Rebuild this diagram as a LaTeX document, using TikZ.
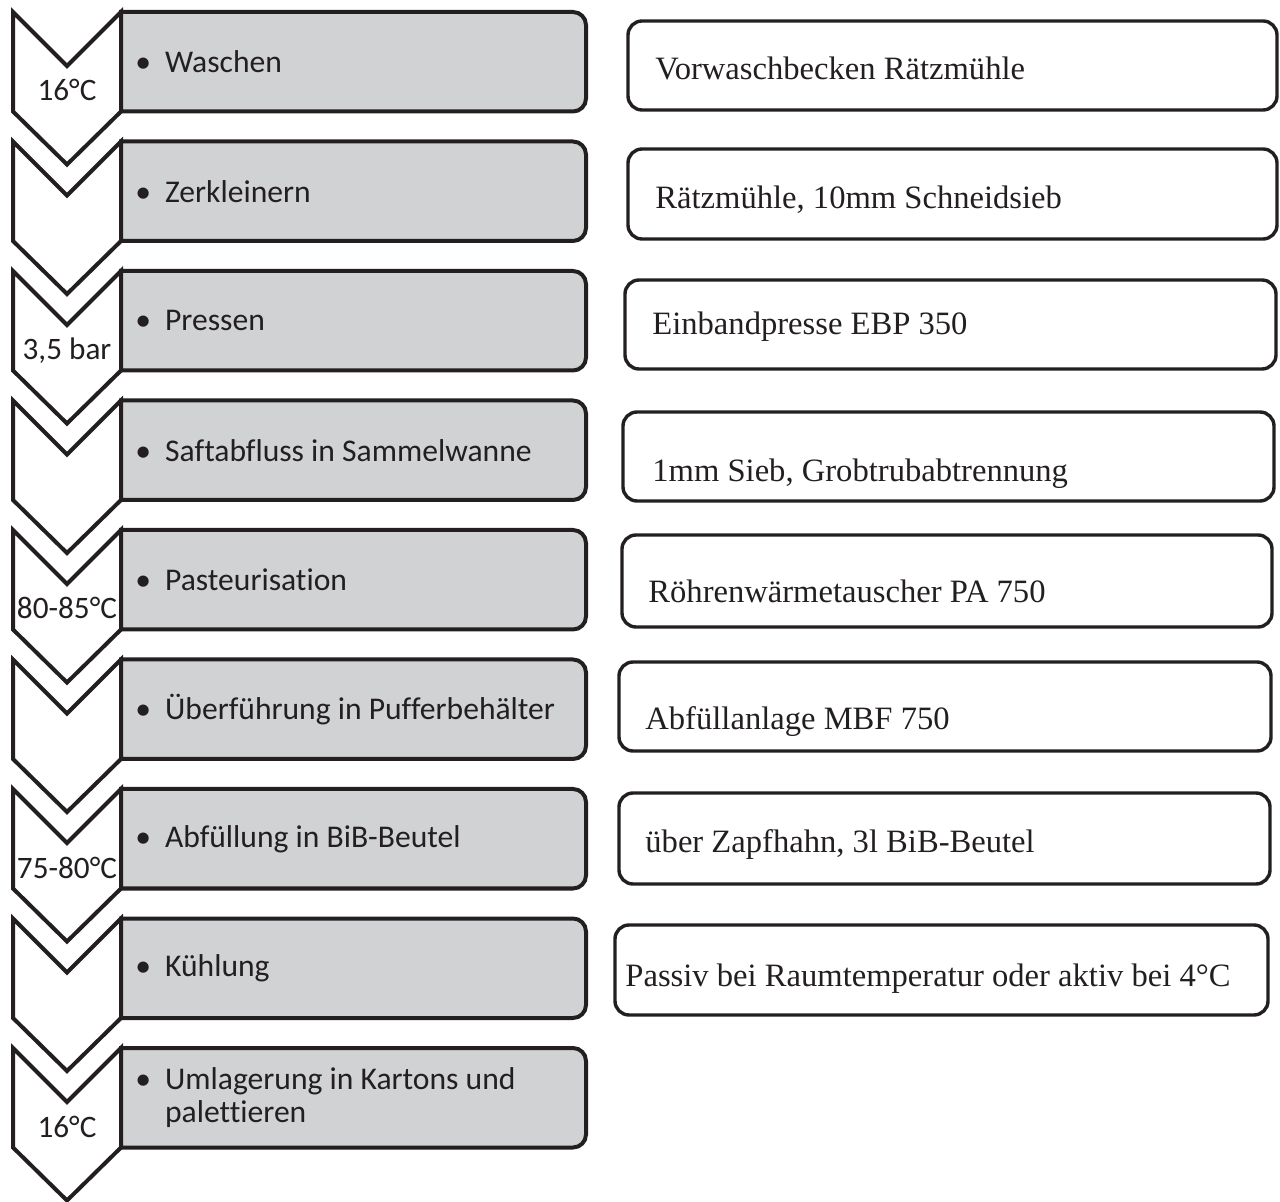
\documentclass[tikz,border=0pt]{standalone}
\usepackage{fontspec}
\setmainfont{Liberation Serif}[Ligatures={NoCommon,NoContextual}]
\newfontfamily\stepfont{Carlito}[Ligatures={NoCommon,NoContextual}]
\definecolor{stepgray}{RGB}{208,210,211}
\definecolor{inkline}{RGB}{35,31,32}
\begin{document}
\begin{tikzpicture}[x=0.5pt, y=-0.5pt,
  chevron/.style={draw=inkline, line width=2pt, fill=white, line join=miter},
  stepline/.style={draw=inkline, line width=2pt, fill=stepgray, line join=miter},
  steptext/.style={font=\stepfont\fontsize{15.8}{16.5}\selectfont, text=inkline, align=left, anchor=west, inner sep=0pt},
  templabel/.style={font=\stepfont\fontsize{15.6}{16}\selectfont, text=inkline, anchor=base, inner sep=0pt},
  toolbox/.style={draw=inkline, line width=1.7pt, rounded corners=7pt},
  tooltext/.style={font=\fontsize{16.3}{18}\selectfont, text=inkline, anchor=base west, inner sep=0pt}]
\useasboundingbox (0,0) rectangle (1280,1202);
% chevrons
\draw[chevron] (13,12) -- ++(54,54) -- ++(54,-54) -- ++(0,99.5) -- ++(-54,53) -- ++(-54,-53) -- cycle;
\draw[chevron] (13,141.5) -- ++(54,54) -- ++(54,-54) -- ++(0,99.5) -- ++(-54,53) -- ++(-54,-53) -- cycle;
\draw[chevron] (13,271) -- ++(54,54) -- ++(54,-54) -- ++(0,99.5) -- ++(-54,53) -- ++(-54,-53) -- cycle;
\draw[chevron] (13,400.5) -- ++(54,54) -- ++(54,-54) -- ++(0,99.5) -- ++(-54,53) -- ++(-54,-53) -- cycle;
\draw[chevron] (13,530) -- ++(54,54) -- ++(54,-54) -- ++(0,99.5) -- ++(-54,53) -- ++(-54,-53) -- cycle;
\draw[chevron] (13,659.5) -- ++(54,54) -- ++(54,-54) -- ++(0,99.5) -- ++(-54,53) -- ++(-54,-53) -- cycle;
\draw[chevron] (13,789) -- ++(54,54) -- ++(54,-54) -- ++(0,99.5) -- ++(-54,53) -- ++(-54,-53) -- cycle;
\draw[chevron] (13,918.5) -- ++(54,54) -- ++(54,-54) -- ++(0,99.5) -- ++(-54,53) -- ++(-54,-53) -- cycle;
\draw[chevron] (13,1048) -- ++(54,54) -- ++(54,-54) -- ++(0,99.5) -- ++(-54,53) -- ++(-54,-53) -- cycle;
\node[templabel] (c1) at (67,101) {16°C};
\node[templabel] (c3) at (67,360) {3,5 bar};
\node[templabel] (c5) at (67,619) {80-85°C};
\node[templabel] (c7) at (67,878) {75-80°C};
\node[templabel] (c9) at (67,1137) {16°C};
% process steps
\draw[stepline] (121,12) -- (573,12) arc[start angle=90, end angle=0, radius=6.5pt] -- (586,98.5) arc[start angle=0, end angle=-90, radius=6.5pt] -- (121,111.5) -- cycle;
\draw[stepline] (121,141.5) -- (573,141.5) arc[start angle=90, end angle=0, radius=6.5pt] -- (586,228) arc[start angle=0, end angle=-90, radius=6.5pt] -- (121,241) -- cycle;
\draw[stepline] (121,271) -- (573,271) arc[start angle=90, end angle=0, radius=6.5pt] -- (586,357.5) arc[start angle=0, end angle=-90, radius=6.5pt] -- (121,370.5) -- cycle;
\draw[stepline] (121,400.5) -- (573,400.5) arc[start angle=90, end angle=0, radius=6.5pt] -- (586,487) arc[start angle=0, end angle=-90, radius=6.5pt] -- (121,500) -- cycle;
\draw[stepline] (121,530) -- (573,530) arc[start angle=90, end angle=0, radius=6.5pt] -- (586,616.5) arc[start angle=0, end angle=-90, radius=6.5pt] -- (121,629.5) -- cycle;
\draw[stepline] (121,659.5) -- (573,659.5) arc[start angle=90, end angle=0, radius=6.5pt] -- (586,746) arc[start angle=0, end angle=-90, radius=6.5pt] -- (121,759) -- cycle;
\draw[stepline] (121,789) -- (573,789) arc[start angle=90, end angle=0, radius=6.5pt] -- (586,875.5) arc[start angle=0, end angle=-90, radius=6.5pt] -- (121,888.5) -- cycle;
\draw[stepline] (121,918.5) -- (573,918.5) arc[start angle=90, end angle=0, radius=6.5pt] -- (586,1005) arc[start angle=0, end angle=-90, radius=6.5pt] -- (121,1018) -- cycle;
\draw[stepline] (121,1048) -- (573,1048) arc[start angle=90, end angle=0, radius=6.5pt] -- (586,1134.5) arc[start angle=0, end angle=-90, radius=6.5pt] -- (121,1147.5) -- cycle;
\node[steptext] (s1) at (135,61.75) {\textbullet\hspace{7pt}Waschen};
\node[steptext] (s2) at (135,191.25) {\textbullet\hspace{7pt}Zerkleinern};
\node[steptext] (s3) at (135,320.75) {\textbullet\hspace{7pt}Pressen};
\node[steptext] (s4) at (135,450.25) {\textbullet\hspace{7pt}Saftabfluss in Sammelwanne};
\node[steptext] (s5) at (135,579.75) {\textbullet\hspace{7pt}Pasteurisation};
\node[steptext] (s6) at (135,709.25) {\textbullet\hspace{7pt}Überführung in Pufferbehälter};
\node[steptext] (s7) at (135,838.75) {\textbullet\hspace{7pt}Abfüllung in BiB-Beutel};
\node[steptext] (s8) at (135,968.25) {\textbullet\hspace{7pt}Kühlung};
\node[steptext] (s9) at (135,1097.75) {\textbullet\hspace{7pt}Umlagerung in Kartons und\\\hphantom{\textbullet\hspace{7pt}}palettieren};
% equipment
\draw[toolbox] (628,21) rectangle (1277,110);
\draw[toolbox] (628,149) rectangle (1277,239);
\draw[toolbox] (625,280) rectangle (1276,369);
\draw[toolbox] (623,412) rectangle (1274,501);
\draw[toolbox] (622,535) rectangle (1272,627);
\draw[toolbox] (619,662) rectangle (1271,751);
\draw[toolbox] (619,793) rectangle (1270,884);
\draw[toolbox] (615,925) rectangle (1268,1015);
\node[tooltext] (w1) at (655,80) {Vorwaschbecken Rätzmühle};
\node[tooltext] (w2) at (655,209) {Rätzmühle, 10mm Schneidsieb};
\node[tooltext] (w3) at (652,335) {Einbandpresse EBP 350};
\node[tooltext] (w4) at (652,482) {1mm Sieb, Grobtrubabtrennung};
\node[tooltext] (w5) at (648,603) {Röhrenwärmetauscher PA 750};
\node[tooltext] (w6) at (645,730) {Abfüllanlage MBF 750};
\node[tooltext] (w7) at (645,853) {über Zapfhahn, 3l BiB-Beutel};
\node[tooltext] (w8) at (625,986) {Passiv bei Raumtemperatur oder aktiv bei 4°C};
\end{tikzpicture}
\end{document}
